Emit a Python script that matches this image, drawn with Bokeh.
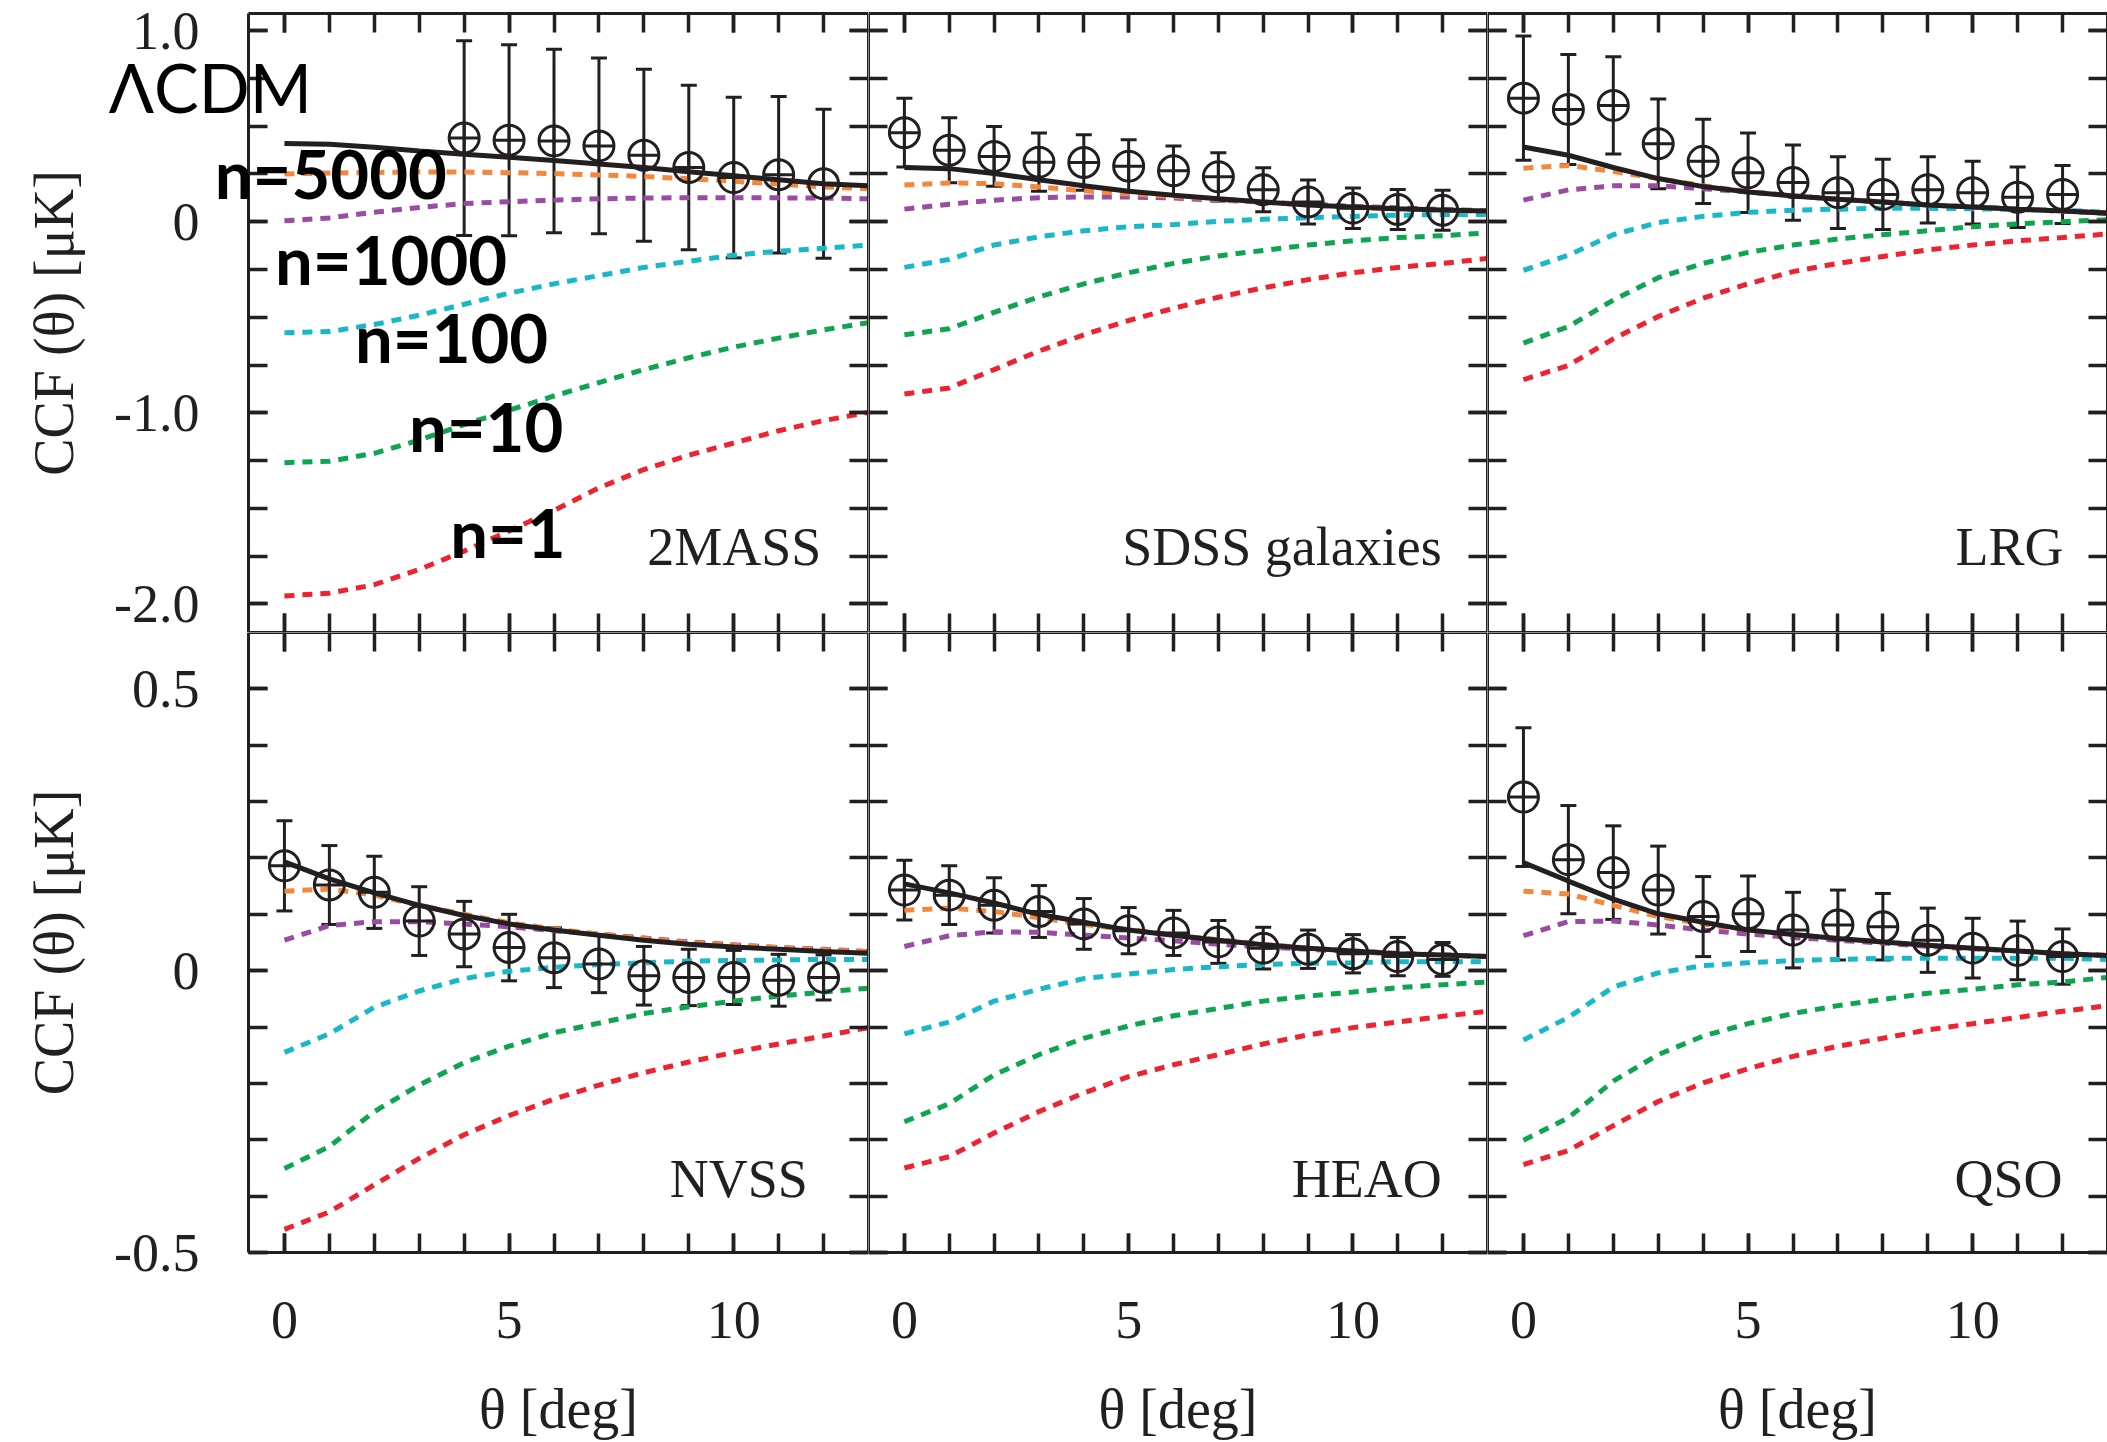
from bokeh.plotting import figure
from bokeh.models import (Range1d, LinearAxis, FixedTicker, CustomJSTickFormatter,
                          Whisker, TeeHead, ColumnDataSource, Label)
from bokeh.layouts import gridplot
from bokeh.embed import file_html
from bokeh.resources import INLINE

# ---------------- data ----------------
theta_model = [0, 1, 2, 3, 4, 5, 6, 7, 8, 9, 10, 11, 12, 13]
theta_data = [0, 1, 2, 3, 4, 5, 6, 7, 8, 9, 10, 11, 12]
theta_2mass = [4, 5, 6, 7, 8, 9, 10, 11, 12]

model_names = ["n=1", "n=10", "n=100", "n=1000", "n=5000", "ΛCDM"]
model_colors = ["#ee2330", "#0ea550", "#18b8c9", "#9a4ba2", "#f4873a", "#231f20"]

# 2MASS
mass_n1 = [-1.959, -1.944, -1.9, -1.82, -1.724, -1.618, -1.511, -1.393, -1.297, -1.222, -1.158, -1.094, -1.041, -0.998]
mass_n10 = [-1.261, -1.254, -1.212, -1.143, -1.062, -0.987, -0.912, -0.842, -0.774, -0.712, -0.656, -0.609, -0.566, -0.528]
mass_n100 = [-0.581, -0.575, -0.538, -0.489, -0.432, -0.374, -0.325, -0.282, -0.239, -0.207, -0.175, -0.154, -0.139, -0.122]
mass_n1000 = [0.005, 0.02, 0.05, 0.075, 0.095, 0.105, 0.113, 0.12, 0.124, 0.126, 0.126, 0.125, 0.124, 0.12]
mass_n5000 = [0.25, 0.255, 0.258, 0.26, 0.26, 0.257, 0.252, 0.245, 0.237, 0.225, 0.212, 0.197, 0.182, 0.173]
mass_lcdm = [0.41, 0.405, 0.39, 0.37, 0.353, 0.338, 0.32, 0.302, 0.284, 0.262, 0.241, 0.22, 0.199, 0.188]
mass_ccf = [0.438, 0.427, 0.423, 0.397, 0.348, 0.284, 0.231, 0.246, 0.199]
mass_err = [0.51, 0.50, 0.48, 0.46, 0.45, 0.43, 0.42, 0.41, 0.39]

# SDSS galaxies
sdss_n1 = [-0.902, -0.87, -0.774, -0.677, -0.592, -0.517, -0.453, -0.395, -0.346, -0.303, -0.267, -0.239, -0.218, -0.192]
sdss_n10 = [-0.592, -0.56, -0.474, -0.393, -0.325, -0.267, -0.218, -0.179, -0.15, -0.122, -0.1, -0.083, -0.073, -0.058]
sdss_n100 = [-0.239, -0.197, -0.122, -0.079, -0.047, -0.026, -0.015, 0.002, 0.013, 0.021, 0.028, 0.034, 0.038, 0.038]
sdss_n1000 = [0.066, 0.092, 0.113, 0.126, 0.13, 0.13, 0.124, 0.113, 0.103, 0.092, 0.081, 0.073, 0.064, 0.058]
sdss_n5000 = [0.192, 0.203, 0.199, 0.182, 0.162, 0.145, 0.132, 0.118, 0.103, 0.087, 0.075, 0.067, 0.06, 0.055]
sdss_lcdm = [0.284, 0.278, 0.252, 0.22, 0.188, 0.16, 0.139, 0.12, 0.103, 0.088, 0.077, 0.068, 0.062, 0.056]
sdss_ccf = [0.466, 0.374, 0.342, 0.312, 0.310, 0.291, 0.267, 0.235, 0.167, 0.103, 0.071, 0.064, 0.060]
sdss_err = [0.18, 0.17, 0.156, 0.152, 0.145, 0.138, 0.13, 0.126, 0.115, 0.115, 0.106, 0.105, 0.105]

# LRG
lrg_n1 = [-0.827, -0.752, -0.613, -0.496, -0.4, -0.325, -0.261, -0.218, -0.182, -0.147, -0.122, -0.1, -0.083, -0.064]
lrg_n10 = [-0.635, -0.549, -0.41, -0.293, -0.218, -0.16, -0.122, -0.09, -0.068, -0.047, -0.026, -0.011, 0.0, 0.011]
lrg_n100 = [-0.254, -0.175, -0.068, -0.004, 0.028, 0.049, 0.06, 0.066, 0.071, 0.07, 0.068, 0.064, 0.06, 0.05]
lrg_n1000 = [0.113, 0.167, 0.188, 0.188, 0.173, 0.156, 0.135, 0.118, 0.103, 0.088, 0.077, 0.066, 0.056, 0.045]
lrg_n5000 = [0.28, 0.295, 0.263, 0.226, 0.188, 0.158, 0.136, 0.118, 0.103, 0.088, 0.077, 0.066, 0.056, 0.045]
lrg_lcdm = [0.391, 0.348, 0.284, 0.226, 0.184, 0.156, 0.135, 0.118, 0.103, 0.088, 0.077, 0.066, 0.056, 0.045]
lrg_ccf = [0.647, 0.588, 0.609, 0.408, 0.316, 0.256, 0.205, 0.152, 0.143, 0.167, 0.152, 0.128, 0.143]
lrg_err = [0.325, 0.288, 0.254, 0.235, 0.22, 0.208, 0.197, 0.188, 0.184, 0.173, 0.164, 0.158, 0.152]

# NVSS
nvss_n1 = [-0.459, -0.428, -0.38, -0.333, -0.291, -0.257, -0.228, -0.203, -0.181, -0.162, -0.145, -0.13, -0.116, -0.101]
nvss_n10 = [-0.351, -0.312, -0.25, -0.203, -0.163, -0.134, -0.11, -0.093, -0.076, -0.064, -0.054, -0.045, -0.038, -0.031]
nvss_n100 = [-0.145, -0.112, -0.065, -0.036, -0.014, -0.001, 0.006, 0.011, 0.014, 0.017, 0.018, 0.019, 0.02, 0.02]
nvss_n1000 = [0.054, 0.08, 0.087, 0.087, 0.083, 0.078, 0.071, 0.065, 0.058, 0.051, 0.046, 0.041, 0.038, 0.034]
nvss_n5000 = [0.141, 0.145, 0.134, 0.116, 0.1, 0.085, 0.074, 0.065, 0.057, 0.05, 0.045, 0.041, 0.037, 0.034]
nvss_lcdm = [0.193, 0.163, 0.138, 0.116, 0.098, 0.083, 0.072, 0.063, 0.054, 0.047, 0.042, 0.038, 0.034, 0.031]
nvss_ccf = [0.186, 0.152, 0.139, 0.088, 0.065, 0.041, 0.023, 0.012, -0.009, -0.012, -0.012, -0.017, -0.012]
nvss_err = [0.08, 0.07, 0.064, 0.061, 0.058, 0.059, 0.053, 0.051, 0.052, 0.05, 0.048, 0.046, 0.04]

# HEAO
heao_n1 = [-0.35, -0.33, -0.288, -0.25, -0.217, -0.188, -0.167, -0.149, -0.13, -0.114, -0.101, -0.091, -0.081, -0.072]
heao_n10 = [-0.268, -0.236, -0.185, -0.149, -0.12, -0.098, -0.08, -0.067, -0.054, -0.045, -0.038, -0.03, -0.025, -0.02]
heao_n100 = [-0.112, -0.091, -0.054, -0.033, -0.014, -0.006, 0.002, 0.007, 0.011, 0.013, 0.014, 0.016, 0.016, 0.016]
heao_n1000 = [0.043, 0.062, 0.069, 0.068, 0.063, 0.058, 0.053, 0.047, 0.042, 0.038, 0.034, 0.03, 0.028, 0.025]
heao_n5000 = [0.107, 0.111, 0.105, 0.094, 0.082, 0.073, 0.063, 0.055, 0.047, 0.04, 0.035, 0.031, 0.028, 0.025]
heao_lcdm = [0.154, 0.138, 0.12, 0.1, 0.086, 0.072, 0.063, 0.054, 0.046, 0.04, 0.035, 0.03, 0.028, 0.025]
heao_ccf = [0.143, 0.134, 0.116, 0.105, 0.083, 0.071, 0.067, 0.051, 0.04, 0.038, 0.03, 0.025, 0.02]
heao_err = [0.053, 0.052, 0.049, 0.046, 0.045, 0.041, 0.04, 0.038, 0.037, 0.034, 0.034, 0.034, 0.03]

# QSO
qso_n1 = [-0.344, -0.319, -0.275, -0.232, -0.199, -0.174, -0.152, -0.134, -0.12, -0.105, -0.094, -0.083, -0.072, -0.062]
qso_n10 = [-0.301, -0.261, -0.196, -0.149, -0.116, -0.094, -0.076, -0.062, -0.051, -0.04, -0.033, -0.025, -0.02, -0.012]
qso_n100 = [-0.123, -0.083, -0.029, -0.004, 0.009, 0.014, 0.018, 0.02, 0.022, 0.022, 0.022, 0.022, 0.022, 0.02]
qso_n1000 = [0.062, 0.087, 0.088, 0.081, 0.072, 0.065, 0.059, 0.054, 0.049, 0.043, 0.039, 0.035, 0.03, 0.027]
qso_n5000 = [0.141, 0.136, 0.116, 0.096, 0.083, 0.072, 0.064, 0.057, 0.051, 0.045, 0.04, 0.035, 0.03, 0.027]
qso_lcdm = [0.192, 0.159, 0.127, 0.101, 0.086, 0.072, 0.064, 0.057, 0.051, 0.045, 0.04, 0.035, 0.03, 0.027]
qso_ccf = [0.308, 0.197, 0.174, 0.143, 0.096, 0.101, 0.072, 0.081, 0.078, 0.054, 0.04, 0.036, 0.025]
qso_err = [0.123, 0.096, 0.083, 0.078, 0.071, 0.067, 0.067, 0.062, 0.059, 0.057, 0.053, 0.052, 0.049]

# tick values
x_major = [0, 5, 10]
x_minor = [0, 1, 2, 3, 4, 5, 6, 7, 8, 9, 10, 11, 12]
y_top_major = [1.0, 0.0, -1.0, -2.0]
y_top_minor = [1.0, 0.75, 0.5, 0.25, 0.0, -0.25, -0.5, -0.75, -1.0, -1.25, -1.5, -1.75, -2.0]
y_bot_major = [0.5, 0.0, -0.5]
y_bot_minor = [0.5, 0.4, 0.3, 0.2, 0.1, 0.0, -0.1, -0.2, -0.3, -0.4, -0.5]

# ---------------- style / layout ----------------
INK = "#231f20"
SERIF = "Liberation Serif"
X_LIM = (-0.8, 13.0)                  # data limits of every panel
Y_LIMS = [(-2.15, 1.09), (-0.5, 0.6)]  # top row, bottom row
FRAME_W = [620, 619, 620]             # pixel size of each panel box
FRAME_H = [619, 620]
LEFT_PAD = 248                        # room for y tick labels / axis title (col 0)
TOP_PAD = 13                          # white strip above the top row
BOTTOM_PAD = 190                      # room for x tick labels / axis title (row 1)

panels = [
    dict(name="2MASS", row=0, col=0, curves=[mass_n1, mass_n10, mass_n100, mass_n1000, mass_n5000, mass_lcdm],
         tx=theta_2mass, ccf=mass_ccf, err=mass_err, lx=11.95, ly=-1.705),
    dict(name="SDSS galaxies", row=0, col=1, curves=[sdss_n1, sdss_n10, sdss_n100, sdss_n1000, sdss_n5000, sdss_lcdm],
         tx=theta_data, ccf=sdss_ccf, err=sdss_err, lx=11.98, ly=-1.705),
    dict(name="LRG", row=0, col=2, curves=[lrg_n1, lrg_n10, lrg_n100, lrg_n1000, lrg_n5000, lrg_lcdm],
         tx=theta_data, ccf=lrg_ccf, err=lrg_err, lx=12.02, ly=-1.705),
    dict(name="NVSS", row=1, col=0, curves=[nvss_n1, nvss_n10, nvss_n100, nvss_n1000, nvss_n5000, nvss_lcdm],
         tx=theta_data, ccf=nvss_ccf, err=nvss_err, lx=11.65, ly=-0.369),
    dict(name="HEAO", row=1, col=1, curves=[heao_n1, heao_n10, heao_n100, heao_n1000, heao_n5000, heao_lcdm],
         tx=theta_data, ccf=heao_ccf, err=heao_err, lx=11.98, ly=-0.369),
    dict(name="QSO", row=1, col=2, curves=[qso_n1, qso_n10, qso_n100, qso_n1000, qso_n5000, qso_lcdm],
         tx=theta_data, ccf=qso_ccf, err=qso_err, lx=12.0, ly=-0.369),
]

# annotation labels placed in the 2MASS panel (data coordinates)
ann_text = ["ΛCDM", "n=5000", "n=1000", "n=100", "n=10", "n=1"]
ann_x = [-3.91, -1.55, -0.21, 1.57, 2.77, 3.69]
ann_y = [0.705, 0.255, -0.195, -0.603, -1.069, -1.624]
ann_weight = ["normal", "bold", "bold", "bold", "bold", "bold"]

Y_FMT = "return (Math.abs(tick) < 1e-9) ? '0' : tick.toFixed(1);"
X_FMT = "return tick.toFixed(0);"
BLANK = "return '';"


def add_axis(p, side, loc, ticker, code, bounds, label=None, standoff=49, label_standoff=40, line_w=3):
    ax = LinearAxis(ticker=ticker, fixed_location=loc, bounds=bounds,
                    axis_line_color=INK, axis_line_width=line_w,
                    major_tick_in=19, major_tick_out=0, minor_tick_in=19, minor_tick_out=0,
                    major_tick_line_color=INK, minor_tick_line_color=INK,
                    major_tick_line_width=3.5, minor_tick_line_width=3.5,
                    formatter=CustomJSTickFormatter(code=code),
                    major_label_text_font=SERIF, major_label_text_font_size="54px",
                    major_label_text_color=INK, major_label_standoff=standoff)
    if label:
        ax.axis_label = label
        ax.axis_label_text_font = SERIF
        ax.axis_label_text_font_size = "56px"
        ax.axis_label_text_font_style = "normal"
        ax.axis_label_text_color = INK
        ax.axis_label_standoff = label_standoff
    p.add_layout(ax, side)


figs = {}
for pan in panels:
    r, c = pan["row"], pan["col"]
    y0, y1 = Y_LIMS[r]
    xpx = FRAME_W[c] / (X_LIM[1] - X_LIM[0])
    ypx = FRAME_H[r] / (y1 - y0)
    # the whole canvas is the plotting frame; the panel box is drawn by the axes
    xs0 = X_LIM[0] - (LEFT_PAD / xpx if c == 0 else 0.0)
    ys1 = y1 + (TOP_PAD / ypx if r == 0 else 0.0)
    ys0 = y0 - (BOTTOM_PAD / ypx if r == 1 else 0.0)
    fw = FRAME_W[c] + (LEFT_PAD if c == 0 else 0)
    fh = FRAME_H[r] + (TOP_PAD if r == 0 else BOTTOM_PAD)
    p = figure(frame_width=fw, frame_height=fh,
               x_range=Range1d(xs0, X_LIM[1]), y_range=Range1d(ys0, ys1),
               x_axis_location=None, y_axis_location=None, title_location=None,
               output_backend="svg", toolbar_location=None,
               min_border=0, min_border_left=0, min_border_right=0,
               min_border_top=0, min_border_bottom=0)
    p.outline_line_color = None
    p.background_fill_color = "white"
    p.border_fill_color = "white"
    for g in p.grid:
        g.visible = False

    if r == 0:
        yt = FixedTicker(ticks=y_top_major, minor_ticks=y_top_minor)
    else:
        yt = FixedTicker(ticks=y_bot_major, minor_ticks=y_bot_minor)
    xt = FixedTicker(ticks=x_major, minor_ticks=x_minor)

    add_axis(p, "left", X_LIM[0], yt, Y_FMT if c == 0 else BLANK, (y0, y1),
             label="CCF (θ) [μK]" if c == 0 else None, standoff=49, label_standoff=26)
    add_axis(p, "right", X_LIM[1], yt, BLANK, (y0, y1))
    add_axis(p, "below", y0, xt, X_FMT if r == 1 else BLANK, X_LIM,
             label="θ [deg]" if r == 1 else None, standoff=49, label_standoff=37)
    add_axis(p, "above", y1, xt, BLANK, X_LIM)

    # model curves
    for i, curve in enumerate(pan["curves"]):
        if i == 5:
            p.line(theta_model, curve, line_color=model_colors[i], line_width=5)
        else:
            p.line(theta_model, curve, line_color=model_colors[i], line_width=5,
                   line_dash="10 8", line_cap="butt")

    # data with error bars
    up = [v + e for v, e in zip(pan["ccf"], pan["err"])]
    lo = [v - e for v, e in zip(pan["ccf"], pan["err"])]
    src = ColumnDataSource(dict(x=pan["tx"], y=pan["ccf"], upper=up, lower=lo))
    p.add_layout(Whisker(source=src, base="x", upper="upper", lower="lower", dimension="height",
                         line_color=INK, line_width=3,
                         upper_head=TeeHead(size=16, line_color=INK, line_width=3),
                         lower_head=TeeHead(size=16, line_color=INK, line_width=3)))
    p.scatter("x", "y", source=src, marker="circle_cross", size=30, fill_color=None,
              line_color=INK, line_width=3)

    p.add_layout(Label(x=pan["lx"], y=pan["ly"], text=pan["name"], text_align="right",
                       text_baseline="alphabetic", text_font=SERIF, text_font_size="54px",
                       text_color=INK))

    if r == 0 and c == 0:
        for t, ax_, ay_, wt in zip(ann_text, ann_x, ann_y, ann_weight):
            p.add_layout(Label(x=ax_, y=ay_, text=t, text_align="left", text_baseline="alphabetic",
                               text_font="Lato", text_font_style=wt, text_font_size="67px",
                               text_color="#000000"))
    figs[(r, c)] = p

grid = gridplot([[figs[(0, 0)], figs[(0, 1)], figs[(0, 2)]],
                 [figs[(1, 0)], figs[(1, 1)], figs[(1, 2)]]], toolbar_location=None)

open("out.html", "w").write(file_html(grid, INLINE))
